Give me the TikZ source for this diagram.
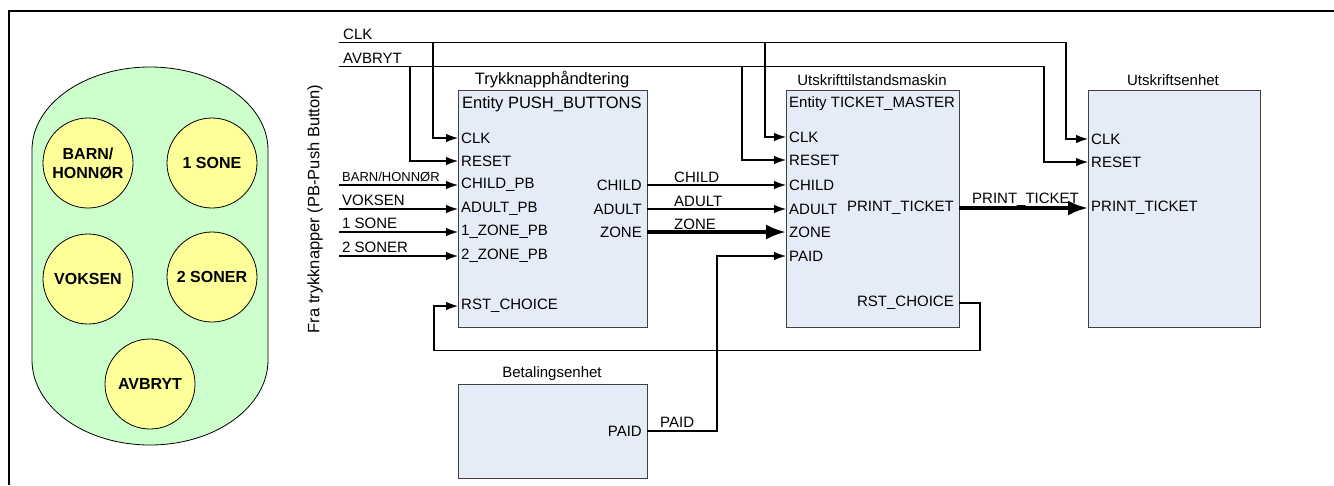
\documentclass[tikz,border=0pt]{standalone}
\usepackage{fontspec}
\setmainfont{Liberation Sans}
\usetikzlibrary{arrows.meta}
\definecolor{boxfill}{HTML}{E6ECF7}
\definecolor{boxline}{HTML}{404040}
\definecolor{padfill}{HTML}{CCFFCC}
\definecolor{btnfill}{HTML}{FFFF99}
\tikzset{
  txt/.style={font=\fontsize{15}{17}\selectfont, inner sep=0pt},
  bigtxt/.style={font=\fontsize{16.5}{19}\selectfont, inner sep=0pt},
  smalltxt/.style={font=\fontsize{13}{15}\selectfont, inner sep=0pt},
  btn/.style={circle, draw=black, line width=0.8pt, fill=btnfill, minimum size=90pt,
    align=center, font=\fontsize{16}{19}\selectfont\bfseries, inner sep=0pt},
  blk/.style={draw=boxline, line width=1.4pt, fill=boxfill, anchor=north west, inner sep=0pt},
  sig/.style={line width=1.1pt},
  sigarrow/.style={sig, -{Latex[length=12pt,width=8.5pt]}},
  bus/.style={line width=3.5pt, -{Latex[length=20pt,width=15pt]}},
}
\begin{document}
\begin{tikzpicture}[x=1pt, y=-1pt]
\useasboundingbox (0,0) rectangle (1334,485);
% outer frame
\draw[line width=2pt] (9,485) -- (9,10.5) -- (1334,10.5);

% push-button pad
\draw[fill=padfill, line width=0.8pt]
  (32,150) arc[start angle=180, end angle=0, x radius=118pt, y radius=83pt]
  -- (268,360) arc[start angle=0, end angle=-180, x radius=118pt, y radius=85pt]
  -- cycle;
\node[btn] (bbarn) at (88,163) {BARN/\\HONNØR};
\node[btn] (b1sone) at (212,163) {1 SONE};
\node[btn] (bvoksen) at (88,279) {VOKSEN};
\node[btn] (b2soner) at (212,277) {2 SONER};
\node[btn] (bavbryt) at (150,384) {AVBRYT};

\node[bigtxt, rotate=90] (fra) at (315,209) {Fra trykknapper (PB-Push Button)};

% blocks
\node[blk, minimum width=189pt, minimum height=237pt] (pb) at (458,90) {};
\node[blk, minimum width=173pt, minimum height=237pt] (tm) at (786,90) {};
\node[blk, minimum width=172pt, minimum height=237pt] (pr) at (1088,90) {};
\node[blk, minimum width=189pt, minimum height=94pt] (pay) at (458,384) {};

% titles
\node[bigtxt] (tpb) at (552,80) {Trykknapphåndtering};
\node[txt] (ttm) at (872,80) {Utskrifttilstandsmaskin};
\node[txt] (tpr) at (1173,80) {Utskriftsenhet};
\node[txt] (tpay) at (552,374) {Betalingsenhet};
\node[bigtxt, anchor=west] (epb) at (462,104) {Entity PUSH\_BUTTONS};
\node[txt, anchor=west] (etm) at (789,104) {Entity TICKET\_MASTER};

% port positions
\coordinate (pb-clk) at (458,138);
\coordinate (pb-rst) at (458,161);
\coordinate (pb-child) at (458,185);
\coordinate (pb-adult) at (458,209);
\coordinate (pb-z1) at (458,232);
\coordinate (pb-z2) at (458,256);
\coordinate (pb-rstc) at (458,306);
\coordinate (pb-ochild) at (647,185);
\coordinate (pb-oadult) at (647,209);
\coordinate (pb-ozone) at (647,232);

\coordinate (tm-clk) at (786,137);
\coordinate (tm-rst) at (786,160);
\coordinate (tm-child) at (786,185);
\coordinate (tm-adult) at (786,209);
\coordinate (tm-zone) at (786,232);
\coordinate (tm-paid) at (786,256);
\coordinate (tm-rstc) at (959,303);
\coordinate (tm-print) at (959,208);

\coordinate (pr-clk) at (1088,139);
\coordinate (pr-rst) at (1088,162);
\coordinate (pr-print) at (1088,208);

\coordinate (pay-paid) at (647,431);

% port labels
\foreach \c/\t in {pb-clk/CLK, pb-rst/RESET, pb-child/CHILD\_PB, pb-adult/ADULT\_PB,
                   pb-z1/1\_ZONE\_PB, pb-z2/2\_ZONE\_PB, pb-rstc/RST\_CHOICE,
                   tm-clk/CLK, tm-rst/RESET, tm-child/CHILD, tm-adult/ADULT,
                   tm-zone/ZONE, tm-paid/PAID,
                   pr-clk/CLK, pr-rst/RESET, pr-print/PRINT\_TICKET}
  \node[txt, anchor=west] at ([xshift=3pt]\c) {\t};
\foreach \c/\t in {pb-ochild/CHILD, pb-oadult/ADULT, pb-ozone/ZONE,
                   tm-rstc/RST\_CHOICE, tm-print/PRINT\_TICKET, pay-paid/PAID}
  \node[txt, anchor=east] at ([xshift=-5pt]\c) {\t};

% global inputs
\coordinate (clkS) at (339,42.7);
\coordinate (rstS) at (339,66.7);
\coordinate (clkE) at (1066,42.7);
\coordinate (rstE) at (1044,66.7);
\coordinate (clkA) at (433,42.7);
\coordinate (clkB) at (765,42.7);
\coordinate (rstA) at (410,66.7);
\coordinate (rstB) at (742,66.7);
\node[txt, anchor=base west] (lclk) at (343,39) {CLK};
\node[txt, anchor=base west] (lavb) at (343,63) {AVBRYT};

\draw[sigarrow] (clkS) -- (clkE) |- (pr-clk);
\draw[sigarrow] (rstS) -- (rstE) |- (pr-rst);
\draw[sigarrow] (clkA) |- (pb-clk);
\draw[sigarrow] (clkB) |- (tm-clk);
\draw[sigarrow] (rstA) |- (pb-rst);
\draw[sigarrow] (rstB) |- (tm-rst);

% push-button inputs
\coordinate (inChild) at (339,185);
\coordinate (inAdult) at (339,209);
\coordinate (inZ1) at (339,232);
\coordinate (inZ2) at (339,256);
\draw[sigarrow] (inChild) -- (pb-child);
\draw[sigarrow] (inAdult) -- (pb-adult);
\draw[sigarrow] (inZ1) -- (pb-z1);
\draw[sigarrow] (inZ2) -- (pb-z2);
\node[smalltxt, anchor=base west] at (342,181.5) {BARN/HONNØR};
\node[txt, anchor=base west] at (342,205.5) {VOKSEN};
\node[txt, anchor=base west] at (342,228.5) {1 SONE};
\node[txt, anchor=base west] at (342,252.5) {2 SONER};

% PUSH_BUTTONS -> TICKET_MASTER
\draw[sigarrow] (pb-ochild) -- (tm-child);
\draw[sigarrow] (pb-oadult) -- (tm-adult);
\draw[bus] (pb-ozone) -- (tm-zone);
\node[txt, anchor=base west] at (674,182) {CHILD};
\node[txt, anchor=base west] at (674,206) {ADULT};
\node[txt, anchor=base west] at (674,229) {ZONE};

% payment
\coordinate (paidJ) at (717,431);
\draw[sigarrow] (pay-paid) -- (paidJ) |- (tm-paid);
\node[txt, anchor=base west] at (660,427) {PAID};

% print ticket
\draw[bus] (tm-print) -- (pr-print);
\node[txt, anchor=base west] at (972,203) {PRINT\_TICKET};

% choice reset feedback
\coordinate (fbR) at (980,303);
\coordinate (fbL) at (434,350.7);
\draw[sigarrow] (tm-rstc) -- (fbR) |- (fbL) |- (pb-rstc);
\end{tikzpicture}
\end{document}
